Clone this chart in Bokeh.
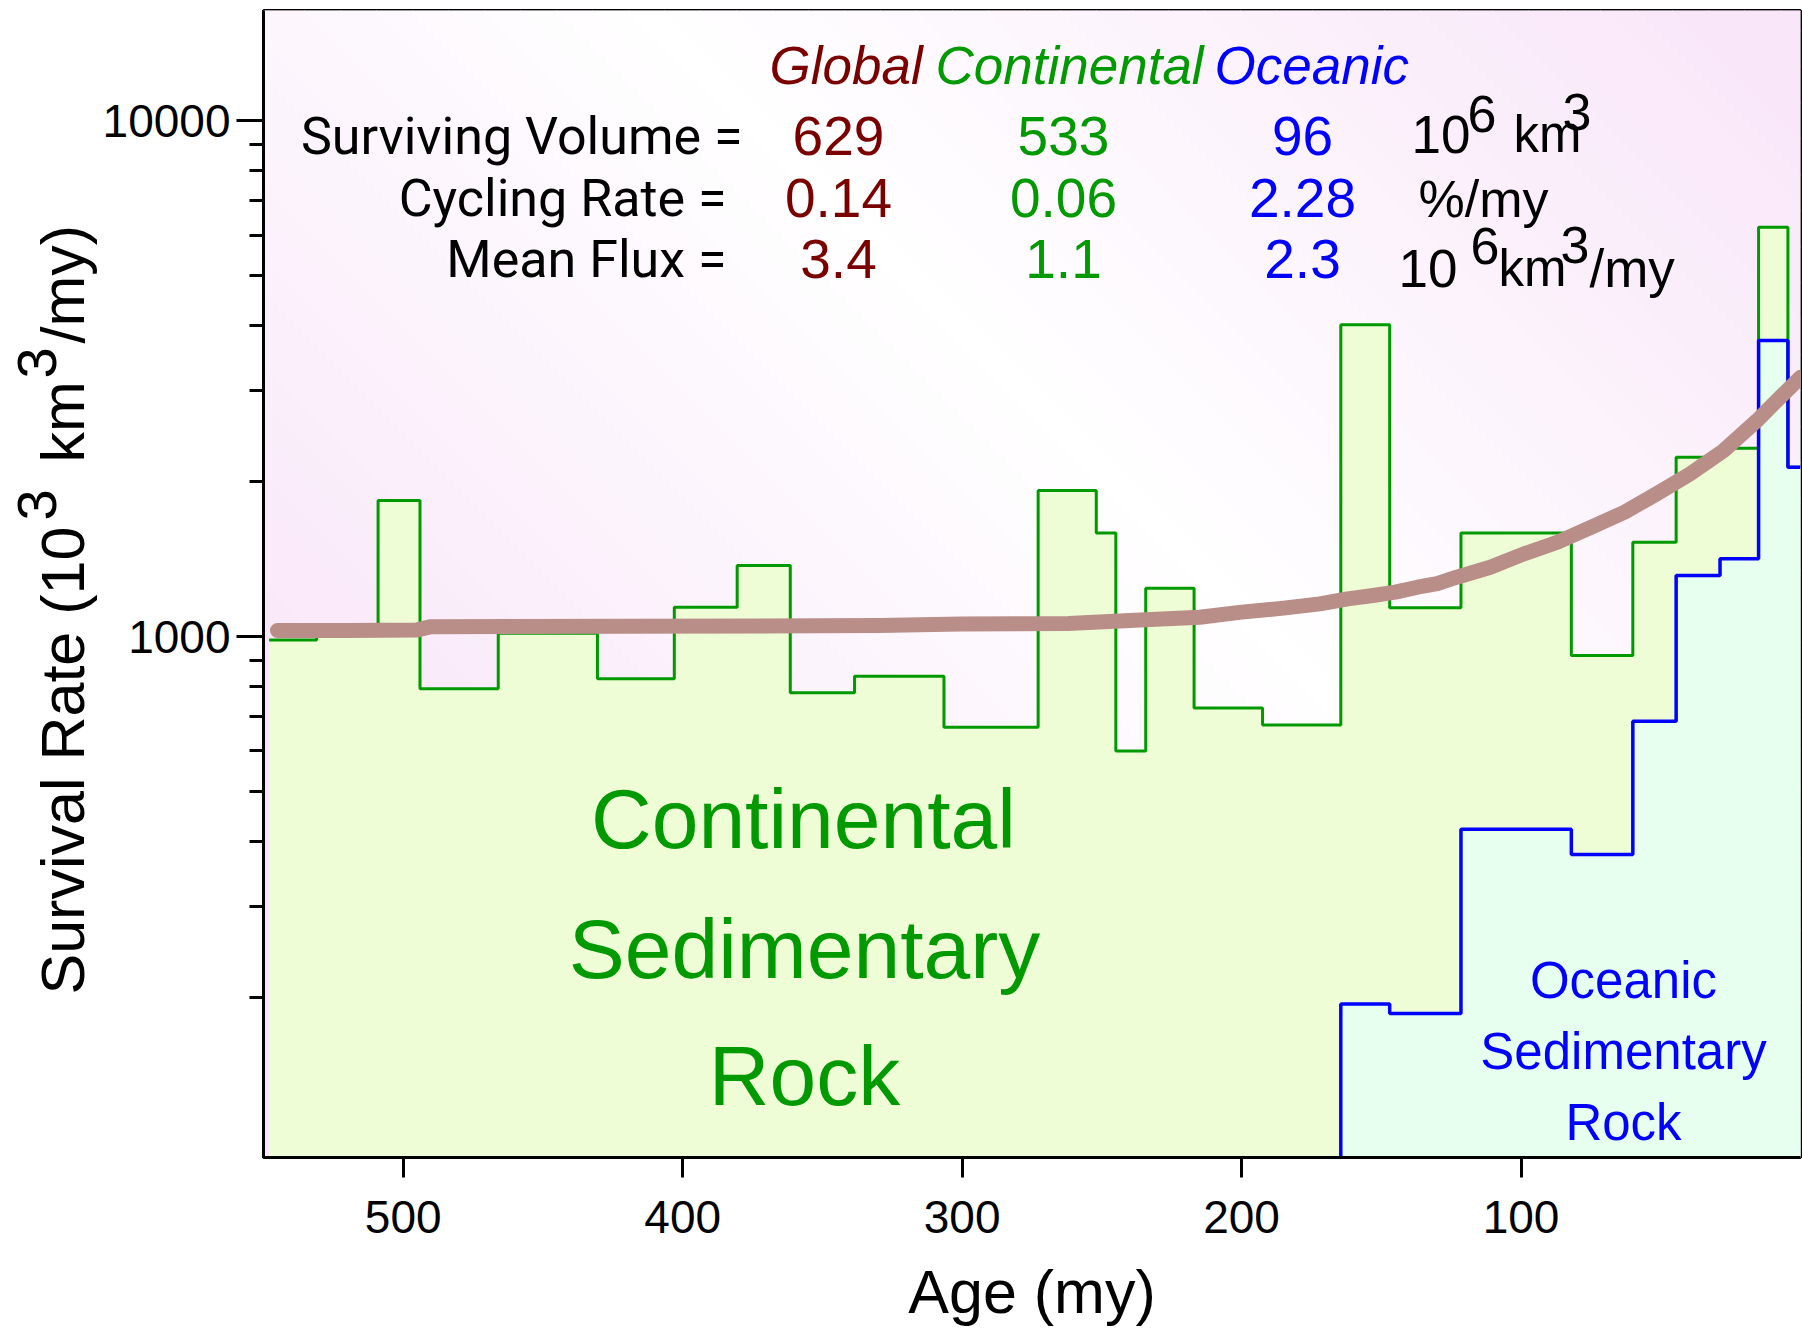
import math
from bokeh.plotting import figure
from bokeh.layouts import row
from bokeh.models import Range1d, FixedTicker, Label, BasicTickFormatter
from bokeh.embed import file_html
from bokeh.resources import INLINE

# ---------------- data ----------------
# Continental sedimentary rock survival rate, step bins (age edges, my)
cont_edges = [548, 531, 509, 494, 466, 430.5, 403, 380.5, 361.5, 338.5, 306.5,
              272.8, 252, 245, 234.3, 217, 192.5, 164.5, 147, 121.5, 82, 60,
              44.5, 28.8, 15, 4.5, 0]
cont_rate = [985, 1015, 1834, 792, 1015, 828, 1140, 1373, 778, 838, 667,
             1919, 1588, 600, 1240, 727, 674, 4018, 1137, 1588, 919, 1523,
             2226, 2317, 6213, 2128]
# Oceanic sedimentary rock survival rate
ocean_edges = [164.5, 147, 121.5, 82, 60, 44.5, 28.8, 15, 4.5, 0]
ocean_rate = [194, 186, 423, 378, 685, 1313, 1415, 3746, 2128]
# Global model curve
model_age = [545, 520, 495, 490, 420, 330, 300, 262, 240, 215, 200, 185, 172,
             162, 153, 145, 137, 130, 123, 111, 99, 87, 75, 63, 51.5, 39.5,
             27.5, 15.5, 9.5, 0]
model_rate = [1027, 1027, 1030, 1045, 1047, 1050, 1058, 1060, 1074, 1090, 1115,
              1135, 1157, 1183, 1201, 1219, 1246, 1266, 1303, 1362, 1446, 1523,
              1628, 1741, 1890, 2067, 2293, 2623, 2828, 3180]

# header table
col_names = ["Global", "Continental", "Oceanic"]
row_names = ["Surviving Volume =", "Cycling Rate =", "Mean Flux ="]
global_vals = ["629", "0.14", "3.4"]
cont_vals = ["533", "0.06", "1.1"]
ocean_vals = ["96", "2.28", "2.3"]

x_ticks = [500, 400, 300, 200, 100]
y_ticks = [1000, 10000]
y_minor = [200, 300, 400, 500, 600, 700, 800, 900,
           2000, 3000, 4000, 5000, 6000, 7000, 8000, 9000]

# ---------------- layout ----------------
X_START, X_END = 550, 0
Y_LOW, Y_HIGH = 97.8, 16340
PAGE_W, PAGE_H = 1802, 1328
LAB_W = 98                      # narrow figure holding the y-axis title
W_CANVAS, H_CANVAS = PAGE_W - LAB_W, PAGE_H
LEFT, RIGHT, TOP, BOTTOM = 263 - LAB_W, 2, 10, 171
FW = W_CANVAS - LEFT - RIGHT
FH = H_CANVAS - TOP - BOTTOM
LY0, LY1 = math.log10(Y_HIGH), math.log10(Y_LOW)
PAGE_LEFT, PAGE_TOP = LAB_W + LEFT, TOP
BSHIFT = 0.345   # label anchor sits ~0.345 em above the glyph baseline

FONT = "Liberation Sans"
ROW_FONT = "Roboto"
RED = "#7a0000"
GREEN = "#009900"
BLUE = "#0000ff"

def fx(xf):
    return X_START - (X_START - X_END) * xf / FW

def fy(yf):
    return 10 ** (LY0 - (LY0 - LY1) * yf / FH)

def tx(X):  # page pixel -> data x
    return fx(X - PAGE_LEFT)

def ty(Y):  # page pixel -> data y
    return fy(Y - PAGE_TOP)

p = figure(width=W_CANVAS, height=H_CANVAS,
           x_range=Range1d(X_START, X_END), y_range=Range1d(Y_LOW, Y_HIGH),
           y_axis_type="log", output_backend="svg", toolbar_location=None,
           min_border_left=LEFT, min_border_right=RIGHT,
           min_border_top=TOP, min_border_bottom=BOTTOM)
p.xgrid.visible = False
p.ygrid.visible = False
p.background_fill_color = "white"
p.border_fill_color = "white"
p.outline_line_color = "black"
p.outline_line_width = 3
p.outline_line_alpha = 1

# ---------------- background gradient (diagonal bands) ----------------
def clip(poly, f):
    out = []
    n = len(poly)
    for i in range(n):
        P, Q = poly[i], poly[(i + 1) % n]
        fp, fq = f(P), f(Q)
        if fp >= 0:
            out.append(P)
        if (fp >= 0) != (fq >= 0):
            t = fp / (fp - fq)
            out.append((P[0] + t * (Q[0] - P[0]), P[1] + t * (Q[1] - P[1])))
    return out

rect = [(0, 0), (FW, 0), (FW, FH), (0, FH)]
bxs, bys, bcols = [], [], []
s = -FH
step = 36
while s < FW:
    s0, s1 = s, s + step
    poly = clip(rect, lambda P, a=s0: (P[0] - P[1]) - a)
    poly = clip(poly, lambda P, b=s1: b - (P[0] - P[1]))
    if len(poly) >= 3:
        sm = 0.5 * (s0 + s1)
        k = min(1.0, abs(sm - 380) / 1050.0)
        r = round(255 - k * (255 - 249))
        g = round(255 - k * (255 - 231))
        bxs.append([fx(P[0]) for P in poly])
        bys.append([fy(P[1]) for P in poly])
        bcols.append("#%02x%02x%02x" % (r, g, r))
    s += step
p.patches(bxs, bys, fill_color=bcols, line_color=bcols, line_width=1)

# ---------------- steps ----------------
BASE = 1.0

def steps(edges, vals):
    xs, ys = [], []
    for i, v in enumerate(vals):
        xs += [edges[i], edges[i + 1]]
        ys += [v, v]
    return xs, ys

cx, cy = steps(cont_edges, cont_rate)
ox, oy = steps(ocean_edges, ocean_rate)

p.patch(cx + [cont_edges[-1], cont_edges[0]], cy + [BASE, BASE],
        fill_color="#eefdd6", line_color=None)
p.patch(ox + [ocean_edges[-1], ocean_edges[0]], oy + [BASE, BASE],
        fill_color="#e6ffee", line_color=None)

p.line(cx, cy, line_color=GREEN, line_width=3)
p.line([ocean_edges[0]] + ox, [BASE] + oy, line_color=BLUE, line_width=3.5)
p.line(model_age, model_rate, line_color="#b98e89", line_width=15,
       line_cap="round", line_join="round")

# ---------------- texts inside plot ----------------
def add_text(text, X, Y, size, color="black", font=FONT, align="left",
             style="normal"):
    p.add_layout(Label(x=tx(X), y=ty(Y - BSHIFT * size), text=text,
                       text_font=font, text_font_size=f"{size}px",
                       text_color=color, text_align=align,
                       text_baseline="alphabetic", text_font_style=style))

# header
add_text(col_names[0], 769, 83, 53, RED, style="italic")
add_text(col_names[1], 935, 83, 53, GREEN, style="italic")
add_text(col_names[2], 1214, 83, 53, BLUE, style="italic")

row_base = [154, 216, 277]
row_right = [742, 726, 726]
for i in range(3):
    add_text(row_names[i], row_right[i], row_base[i], 52, "black", ROW_FONT, "right")
    add_text(global_vals[i], 838, row_base[i], 55, RED, align="center")
    add_text(cont_vals[i], 1063, row_base[i], 55, GREEN, align="center")
    add_text(ocean_vals[i], 1302, row_base[i], 55, BLUE, align="center")

# units
add_text("10", 1411, 152, 53)
add_text("6", 1467, 131, 52)
add_text("km", 1513, 152, 51)
add_text("3", 1562, 129, 52)
add_text("%/my", 1418, 216, 52)
add_text("10", 1398, 286, 53)
add_text("6", 1470, 263, 52)
add_text("km", 1498, 286, 51)
add_text("3", 1560, 262, 52)
add_text("/my", 1589, 286, 53)

# region labels
add_text("Continental", 803, 847, 84, GREEN, align="center")
add_text("Sedimentary", 804, 977, 84, GREEN, align="center")
add_text("Rock", 804, 1104, 84, GREEN, align="center")
add_text("Oceanic", 1623, 998, 51, BLUE, align="center")
add_text("Sedimentary", 1623, 1069, 51, BLUE, align="center")
add_text("Rock", 1623, 1140, 51, BLUE, align="center")

# ---------------- axes ----------------
for ax in (p.xaxis[0], p.yaxis[0]):
    ax.axis_line_width = 3
    ax.major_tick_line_width = 3
    ax.minor_tick_line_width = 3
    ax.major_tick_in = 0
    ax.minor_tick_in = 0
    ax.major_label_text_font = FONT
    ax.major_label_text_font_size = "46px"
    ax.major_label_text_color = "black"

p.xaxis.ticker = FixedTicker(ticks=x_ticks)
p.xaxis.major_tick_out = 20
p.xaxis.minor_tick_out = 0
p.xaxis.major_label_standoff = 23
p.xaxis.axis_label = "Age (my)"
p.xaxis.axis_label_text_font = FONT
p.xaxis.axis_label_text_font_size = "61px"
p.xaxis.axis_label_text_font_style = "normal"
p.xaxis.axis_label_text_color = "black"
p.xaxis.axis_label_standoff = 22

p.yaxis.ticker = FixedTicker(ticks=y_ticks, minor_ticks=y_minor)
p.yaxis.formatter = BasicTickFormatter(use_scientific=False)
p.yaxis.major_tick_out = 27
p.yaxis.minor_tick_out = 14
p.yaxis.major_label_standoff = 6

# ---------------- y-axis title (own narrow figure, page pixels) ----------------
lab = figure(width=LAB_W, height=PAGE_H, x_range=Range1d(0, LAB_W),
             y_range=Range1d(PAGE_H - (TOP + FH), PAGE_H - TOP),
             output_backend="svg", toolbar_location=None,
             x_axis_location=None, y_axis_location=None,
             min_border=0, min_border_left=0, min_border_right=0,
             min_border_top=TOP, min_border_bottom=BOTTOM)
lab.outline_line_color = None
lab.xgrid.visible = False
lab.ygrid.visible = False
lab.background_fill_color = "white"
lab.border_fill_color = "white"

def add_ytitle(text, X, Y, size):
    # X: wanted glyph baseline (page px), Y: wanted start of text (page px)
    lab.add_layout(Label(x=X - BSHIFT * size, y=PAGE_H - Y, text=text,
                         text_font=FONT, text_font_size=f"{size}px",
                         text_color="black", text_align="left",
                         text_baseline="alphabetic", angle=math.pi / 2))

add_ytitle("Survival Rate (10", 84, 994, 61)
add_ytitle("3", 56, 520, 56)
add_ytitle("km", 84, 462, 61)
add_ytitle("3", 56, 378, 56)
add_ytitle("/my)", 84, 343, 61)

layout = row(lab, p)
open("out.html", "w").write(file_html(layout, INLINE))
